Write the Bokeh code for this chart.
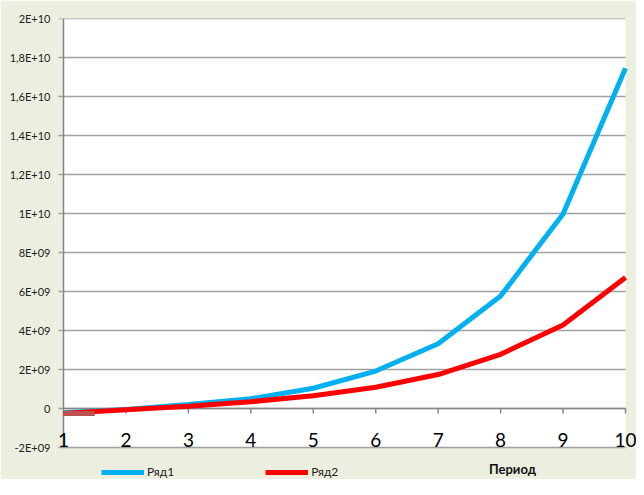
from bokeh.plotting import figure
from bokeh.models import Range1d, FixedTicker, Legend, LegendItem, Label, BoxAnnotation
from bokeh.core.properties import value
from bokeh.embed import file_html
from bokeh.resources import INLINE

periods = [1, 2, 3, 4, 5, 6, 7, 8, 9, 10]
series1 = [-0.22e9, -0.05e9, 0.2e9, 0.5e9, 1.04e9, 1.92e9, 3.32e9, 5.77e9, 9.98e9, 17.45e9]
series2 = [-0.25e9, -0.06e9, 0.12e9, 0.35e9, 0.65e9, 1.09e9, 1.74e9, 2.78e9, 4.28e9, 6.72e9]
series_names = ["Ряд1", "Ряд2"]
y_ticks = [-2e9, 0, 2e9, 4e9, 6e9, 8e9, 1e10, 1.2e10, 1.4e10, 1.6e10, 1.8e10, 2e10]
y_tick_labels = ["-2E+09", "0", "2E+09", "4E+09", "6E+09", "8E+09", "1E+10",
                 "1,2E+10", "1,4E+10", "1,6E+10", "1,8E+10", "2E+10"]
x_tick_labels = [str(v) for v in periods]
x_title = "Период"

BG = "#ECEEDF"
FONT = "Lato"
GRID = "#A0A0A0"
AXIS = "#868686"

# layout (pixels)
W, H = 636, 479
FRAME_LEFT = 55                    # bokeh frame left edge
AXIS_LEFT, TOP = 63, 18            # white plotting area left / top
PLOT_W, PLOT_H = 562, 429          # white plotting area size
x0, x1 = periods[0], periods[-1]
y0, y1 = y_ticks[0], y_ticks[-1]
x_per_px = (x1 - x0) / PLOT_W
y_per_px = (y1 - y0) / PLOT_H
x_start = x0 - (AXIS_LEFT - FRAME_LEFT) * x_per_px
x_end = x1 + (W - AXIS_LEFT - PLOT_W) * x_per_px
y_start = y0 - (H - TOP - PLOT_H) * y_per_px

p = figure(width=W, height=H, output_backend="svg", toolbar_location=None,
           x_range=Range1d(x_start, x_end), y_range=Range1d(y_start, y1),
           min_border_left=FRAME_LEFT, min_border_right=0, min_border_top=TOP,
           min_border_bottom=0)
p.background_fill_color = BG
p.border_fill_color = BG
p.outline_line_color = None
p.xaxis.visible = False
p.xgrid.grid_line_color = None
p.ygrid.grid_line_color = None

# white plotting area
p.add_layout(BoxAnnotation(left=x0, right=x1, bottom=y0, top=y1, fill_color="white",
                           fill_alpha=1, line_color=None, level="underlay"))

# horizontal gridlines (extending left as tick marks)
tick_x = x0 - 5 * x_per_px
p.segment(x0=[tick_x] * len(y_ticks), y0=y_ticks, x1=[x1] * len(y_ticks), y1=y_ticks,
          line_color=GRID, line_width=1.5)

# vertical axis line
p.line(x=[x0, x0], y=[y0, y1], line_color=AXIS, line_width=1.5)

# Y axis labels
p.yaxis.ticker = FixedTicker(ticks=y_ticks)
p.yaxis.major_label_overrides = {t: l for t, l in zip(y_ticks, y_tick_labels)}
p.yaxis.axis_line_color = None
p.yaxis.major_tick_line_color = None
p.yaxis.major_tick_out = 0
p.yaxis.major_tick_in = 0
p.yaxis.minor_tick_line_color = None
p.yaxis.major_label_text_font = FONT
p.yaxis.major_label_text_font_size = "11px"
p.yaxis.major_label_text_color = "#222222"
p.yaxis.major_label_standoff = 5

# horizontal axis at y = 0 with tick marks
zero = y_ticks[1]
p.line(x=[x0, x1], y=[zero, zero], line_color=AXIS, line_width=1.5)
p.segment(x0=periods[1:], y0=[zero] * 9, x1=periods[1:], y1=[zero - 5 * y_per_px] * 9,
          line_color=AXIS, line_width=1.5)

# category labels
p.text(x=periods, y=[y0] * len(periods), text=x_tick_labels, text_font=value(FONT),
       text_font_size="19px", text_align="center", text_baseline="bottom",
       text_color="black", y_offset=-1)

# Series
r1 = p.line(periods, series1, line_color="#00B0F0", line_width=5)
r2 = p.line(periods, series2, line_color="#FF0000", line_width=5)

# darker start segment artefact
mid_x = (periods[0] + periods[1]) / 2
p.line([periods[0], mid_x], [series2[0], series2[0]], line_color="#C0504D", line_width=5)

legend = Legend(items=[LegendItem(label=series_names[0], renderers=[r1]),
                       LegendItem(label=series_names[1], renderers=[r2])],
                orientation="horizontal", location=(46, 0),
                background_fill_alpha=0, border_line_color=None,
                glyph_width=43, glyph_height=12, label_standoff=3, spacing=91,
                padding=2, margin=0,
                label_text_font=FONT, label_text_font_size="12px", label_text_color="#222222")
p.add_layout(legend, "center")

p.add_layout(Label(x=8.19, y=y0 - 21 * y_per_px, text=x_title, text_font=FONT,
                   text_font_size="13px", text_font_style="bold", text_align="center",
                   text_baseline="middle", text_color="#111111"))

open("out.html", "w").write(file_html(p, INLINE))
